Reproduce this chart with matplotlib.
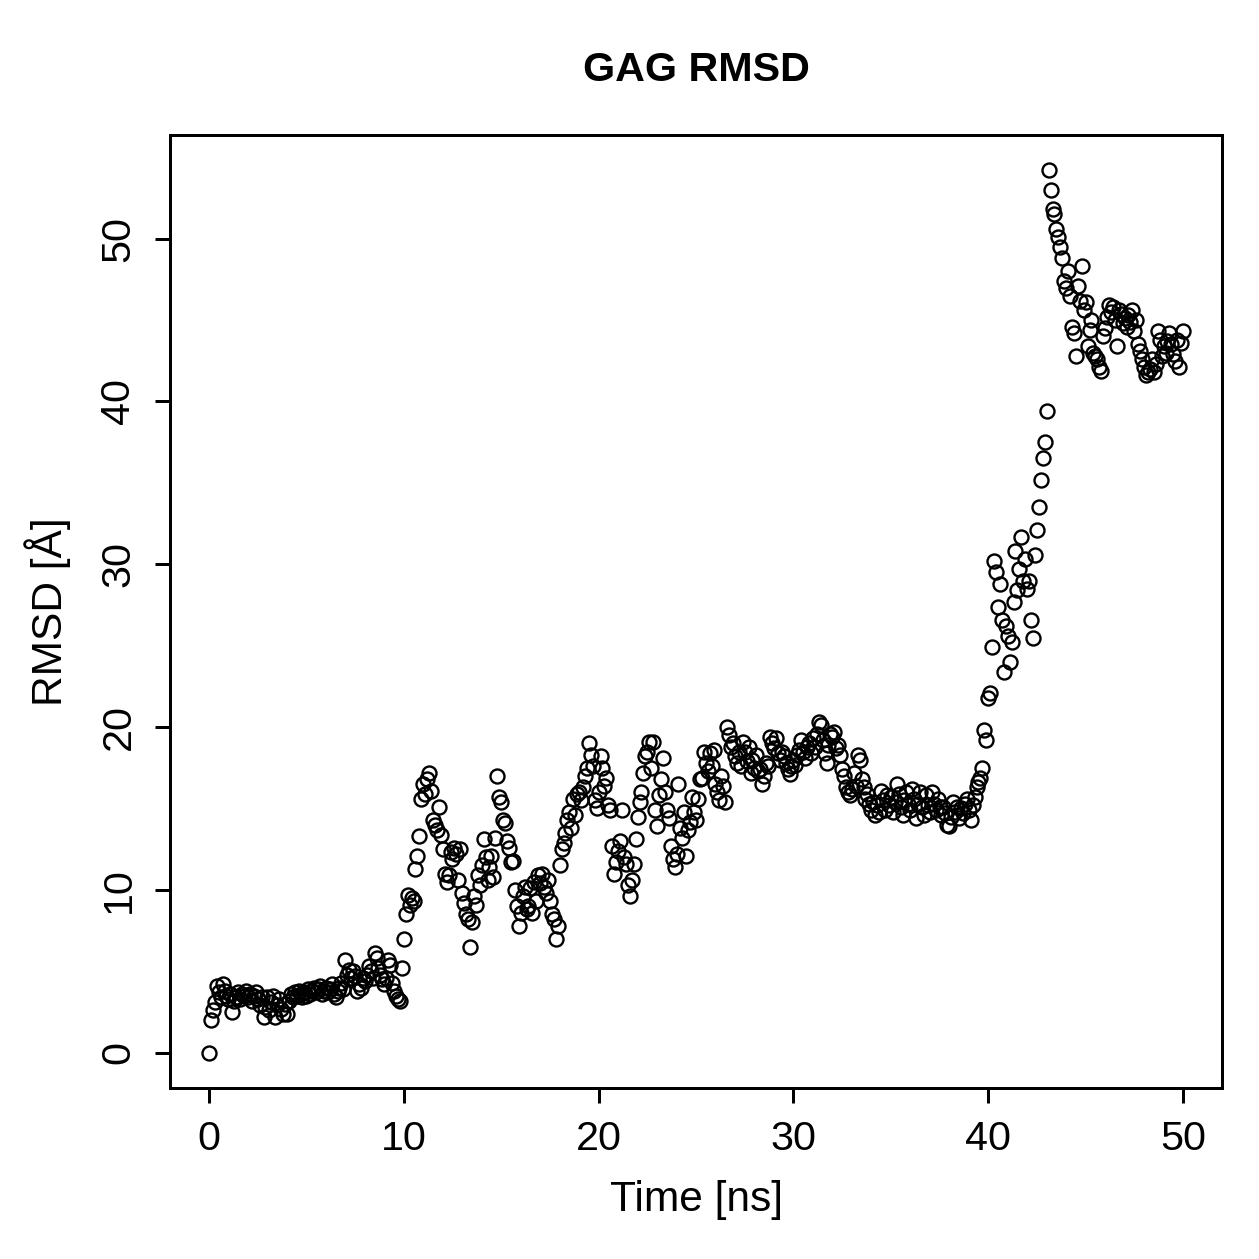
import numpy as np
import matplotlib
matplotlib.use("Agg")
import matplotlib.pyplot as plt

# RMSD values, one row per nanosecond (0.1 ns steps)
rmsd_ns00 = [0.0, 2.0, 2.6, 3.1, 4.1, 3.7, 3.4, 4.2, 3.8, 3.5]
rmsd_ns01 = [3.3, 3.6, 2.5, 3.2, 3.4, 3.7, 3.3, 3.6, 3.5, 3.8]
rmsd_ns02 = [3.4, 3.6, 3.2, 3.5, 3.7, 3.3, 2.9, 3.4, 2.2, 2.8]
rmsd_ns03 = [3.4, 2.6, 3.1, 3.5, 2.2, 2.9, 3.3, 2.7, 2.4, 3.0]
rmsd_ns04 = [2.4, 3.2, 3.6, 3.4, 3.7, 3.5, 3.8, 3.6, 3.4, 3.7]
rmsd_ns05 = [3.5, 3.9, 3.6, 3.8, 4.0, 3.7, 3.9, 4.1, 3.6, 3.8]
rmsd_ns06 = [4.0, 3.7, 3.9, 4.2, 3.6, 3.4, 3.8, 4.0, 4.3, 3.9]
rmsd_ns07 = [5.7, 4.8, 5.1, 4.6, 5.0, 4.7, 3.8, 4.2, 4.0, 4.6]
rmsd_ns08 = [4.4, 4.8, 5.3, 5.0, 4.6, 6.1, 5.8, 5.2, 4.8, 4.5]
rmsd_ns09 = [4.2, 4.6, 5.7, 5.4, 4.3, 3.8, 3.5, 3.3, 3.2, 5.2]
rmsd_ns10 = [7.0, 8.5, 9.7, 9.1, 9.5, 9.3, 11.3, 12.1, 13.3, 15.6]
rmsd_ns11 = [16.5, 15.9, 16.8, 17.2, 16.1, 14.3, 14.0, 13.7, 15.1, 13.4]
rmsd_ns12 = [12.5, 11.0, 10.5, 10.9, 12.3, 11.9, 12.6, 12.2, 10.6, 12.5]
rmsd_ns13 = [9.8, 9.2, 8.5, 8.2, 6.5, 8.0, 9.6, 9.1, 10.9, 10.3]
rmsd_ns14 = [11.5, 13.1, 12.0, 10.6, 11.4, 12.1, 10.8, 13.2, 17.0, 15.7]
rmsd_ns15 = [15.4, 14.3, 14.1, 13.0, 12.6, 11.7, 11.8, 10.0, 9.0, 7.8]
rmsd_ns16 = [8.6, 9.6, 10.2, 8.8, 9.0, 10.1, 8.6, 10.5, 9.3, 10.9]
rmsd_ns17 = [10.4, 11.0, 10.2, 9.8, 10.6, 9.3, 8.5, 8.2, 7.0, 7.8]
rmsd_ns18 = [11.5, 12.5, 12.9, 13.5, 14.3, 14.8, 13.8, 15.6, 14.6, 15.9]
rmsd_ns19 = [16.0, 15.5, 16.3, 17.0, 17.5, 19.0, 18.3, 17.6, 15.5, 15.0]
rmsd_ns20 = [16.0, 18.2, 17.5, 16.4, 16.9, 15.2, 14.9, 12.7, 11.0, 11.7]
rmsd_ns21 = [12.4, 13.0, 14.9, 12.0, 11.6, 10.3, 9.6, 10.6, 11.6, 13.1]
rmsd_ns22 = [14.5, 15.4, 16.0, 17.2, 18.2, 18.5, 19.1, 17.5, 19.1, 14.9]
rmsd_ns23 = [13.9, 15.8, 16.8, 18.1, 16.0, 14.9, 14.4, 12.7, 11.9, 11.4]
rmsd_ns24 = [12.2, 16.5, 13.8, 13.2, 14.8, 12.1, 13.7, 14.2, 15.7, 14.8]
rmsd_ns25 = [14.3, 15.6, 16.8, 16.9, 18.5, 17.8, 17.3, 18.4, 17.6, 18.6]
rmsd_ns26 = [16.5, 16.0, 15.5, 17.0, 16.4, 15.4, 20.0, 19.5, 18.8, 19.0]
rmsd_ns27 = [18.2, 17.8, 18.5, 17.6, 19.1, 18.5, 17.9, 18.8, 17.2, 18.0]
rmsd_ns28 = [17.5, 18.3, 17.3, 17.4, 16.5, 17.0, 17.8, 17.6, 19.4, 19.0]
rmsd_ns29 = [18.7, 19.3, 18.4, 18.0, 18.5, 18.2, 17.8, 17.4, 17.1, 17.6]
rmsd_ns30 = [18.0, 17.7, 18.3, 18.6, 19.2, 18.5, 18.1, 18.8, 19.0, 18.4]
rmsd_ns31 = [19.3, 18.8, 19.6, 20.3, 20.1, 19.2, 18.4, 17.8, 18.9, 19.6]
rmsd_ns32 = [19.4, 19.7, 18.7, 18.9, 18.3, 17.4, 17.0, 16.3, 16.0, 15.8]
rmsd_ns33 = [16.2, 17.2, 16.4, 18.3, 18.0, 16.8, 16.3, 15.6, 15.9, 15.3]
rmsd_ns34 = [14.9, 15.4, 14.6, 15.2, 14.8, 16.1, 15.5, 14.9, 15.8, 15.2]
rmsd_ns35 = [15.7, 14.8, 15.4, 16.5, 15.9, 15.1, 14.6, 15.5, 16.0, 15.3]
rmsd_ns36 = [14.9, 16.2, 15.6, 14.4, 15.3, 16.0, 15.1, 14.6, 15.8, 15.2]
rmsd_ns37 = [14.8, 16.0, 15.3, 14.9, 15.6, 15.1, 14.6, 15.1, 14.7, 14.0]
rmsd_ns38 = [13.9, 14.5, 15.4, 14.8, 15.1, 14.4, 15.0, 14.7, 15.3, 15.6]
rmsd_ns39 = [14.9, 14.3, 15.2, 15.7, 16.3, 16.6, 16.9, 17.5, 19.8, 19.2]
rmsd_ns40 = [21.8, 22.1, 24.9, 30.2, 29.5, 27.4, 28.8, 26.6, 23.4, 26.2]
rmsd_ns41 = [25.6, 24.0, 25.2, 27.7, 30.8, 28.4, 29.7, 31.7, 29.0, 30.3]
rmsd_ns42 = [28.5, 29.0, 26.6, 25.5, 30.6, 32.1, 33.5, 35.2, 36.5, 37.5]
rmsd_ns43 = [39.4, 54.2, 53.0, 51.8, 51.5, 50.6, 50.1, 49.5, 48.8, 47.4]
rmsd_ns44 = [47.0, 48.0, 46.5, 44.6, 44.2, 42.8, 47.1, 46.2, 48.3, 45.6]
rmsd_ns45 = [46.1, 43.4, 44.4, 45.0, 43.0, 42.8, 42.6, 42.1, 41.9, 44.0]
rmsd_ns46 = [44.5, 45.2, 45.9, 45.5, 45.8, 45.0, 43.4, 45.6, 45.4, 44.8]
rmsd_ns47 = [45.1, 44.6, 45.3, 44.9, 45.6, 44.3, 45.0, 43.5, 43.1, 42.6]
rmsd_ns48 = [42.1, 41.6, 41.8, 42.0, 42.6, 41.8, 42.3, 44.3, 43.8, 42.8]
rmsd_ns49 = [43.4, 43.0, 43.7, 44.2, 43.5, 42.9, 42.5, 43.8, 42.1, 43.6]
rmsd_ns50 = [44.3]

rows = [
    rmsd_ns00, rmsd_ns01, rmsd_ns02, rmsd_ns03, rmsd_ns04, rmsd_ns05, rmsd_ns06,
    rmsd_ns07, rmsd_ns08, rmsd_ns09, rmsd_ns10, rmsd_ns11, rmsd_ns12, rmsd_ns13,
    rmsd_ns14, rmsd_ns15, rmsd_ns16, rmsd_ns17, rmsd_ns18, rmsd_ns19, rmsd_ns20,
    rmsd_ns21, rmsd_ns22, rmsd_ns23, rmsd_ns24, rmsd_ns25, rmsd_ns26, rmsd_ns27,
    rmsd_ns28, rmsd_ns29, rmsd_ns30, rmsd_ns31, rmsd_ns32, rmsd_ns33, rmsd_ns34,
    rmsd_ns35, rmsd_ns36, rmsd_ns37, rmsd_ns38, rmsd_ns39, rmsd_ns40, rmsd_ns41,
    rmsd_ns42, rmsd_ns43, rmsd_ns44, rmsd_ns45, rmsd_ns46, rmsd_ns47, rmsd_ns48,
    rmsd_ns49, rmsd_ns50,
]
rmsd = np.array([v for row in rows for v in row])
time_ns = np.linspace(0, 50, len(rmsd))

x_ticks = [0, 10, 20, 30, 40, 50]
y_ticks = [0, 10, 20, 30, 40, 50]

plt.rcParams['font.family'] = ['Liberation Sans', 'DejaVu Sans']

W = 1259
fig = plt.figure(figsize=(W / 180, W / 180), dpi=180)
ax = fig.add_axes([170 / W, 1 - 1088 / W, (1222 - 170) / W, (1088 - 135) / W])

ax.plot(time_ns, rmsd, ls='none', marker='o', mfc='none', mec='black',
        ms=5.6, mew=0.95)

# R-style 4% padding around the data range
xr = time_ns.max() - time_ns.min()
ax.set_xlim(time_ns.min() - 0.04 * xr, time_ns.max() + 0.04 * xr)
yr = rmsd.max() - rmsd.min()
ax.set_ylim(rmsd.min() - 0.04 * yr, rmsd.max() + 0.04 * yr)

ax.set_xticks(x_ticks)
ax.set_yticks(y_ticks)
ax.tick_params(direction='out', length=6, width=1.2, labelsize=16.5, pad=7)
ax.tick_params(axis='y', labelrotation=90)
for lab in ax.get_yticklabels():
    lab.set_va('center')
for sp in ax.spines.values():
    sp.set_linewidth(1.2)

fig.text(696 / W, 1 - 70 / W, 'GAG RMSD', ha='center', va='center',
         fontsize=16.5, fontweight='bold')
fig.text(696 / W, 1 - 1200 / W, 'Time [ns]', ha='center', va='center', fontsize=17)
fig.text(48 / W, 1 - 612 / W, 'RMSD [Å]', ha='center', va='center',
         rotation=90, fontsize=17)

fig.savefig('out.png', dpi=180)
